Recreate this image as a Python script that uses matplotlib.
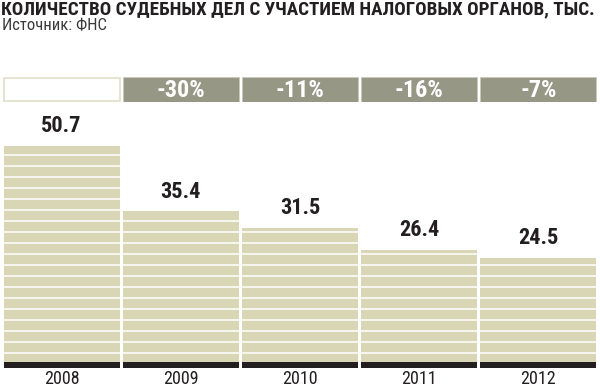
import numpy as np
import matplotlib
matplotlib.use("Agg")
import matplotlib.pyplot as plt
from matplotlib.patches import Rectangle
from matplotlib import font_manager

# Data
years = ["2008", "2009", "2010", "2011", "2012"]
cases = [50.7, 35.4, 31.5, 26.4, 24.5]
changes = ["", "-30%", "-11%", "-16%", "-7%"]

TITLE = "КОЛИЧЕСТВО СУДЕБНЫХ ДЕЛ С УЧАСТИЕМ НАЛОГОВЫХ ОРГАНОВ, ТЫС."
SOURCE = "Источник: ФНС"

BAR = "#d9d6b6"
GREY = "#979786"
DARK = "#231f20"

names = {f.name for f in font_manager.fontManager.ttflist}
NARROW = [n for n in ["Roboto Condensed", "Liberation Sans Narrow", "Roboto"] if n in names] + ["DejaVu Sans"]

W, H = 600, 388
fig = plt.figure(figsize=(W / 100, H / 100), dpi=100)

def px_axes(x0, y0, x1, y1):
    # pixel box (top-left origin) -> figure axes
    return fig.add_axes([x0 / W, 1 - y1 / H, (x1 - x0) / W, (y1 - y0) / H])

x = np.arange(len(years))
bw = 0.973

# main bars: baseline at y=362px, 4.26 px per unit
ax = px_axes(2, 362 - 58 * 4.26, 598, 368)
ax.set_xlim(-0.5, len(years) - 0.5)
band = 6 / 4.26
ax.set_ylim(-band, 58)
ax.bar(x, cases, width=bw, color=BAR, zorder=1)
ax.bar(x, [band] * len(x), bottom=-band, width=bw, color=DARK, zorder=1)
for y in np.arange(9, 240, 11) / 4.26:
    ax.axhline(y, color="white", lw=1.1, zorder=2)
for xi, v in zip(x, cases):
    ax.text(xi, v + 2.0, f"{v}", ha="center", va="bottom", fontsize=16,
            fontweight="bold", color=DARK, family=NARROW)
    ax.text(xi, -band - 0.4, years[xi], ha="center", va="top", fontsize=13,
            color=DARK, family=NARROW)
ax.axis("off")

# header row with percent changes
hx = px_axes(2, 77, 598, 102)
hx.set_xlim(-0.5, len(years) - 0.5)
hx.set_ylim(0, 1)
for xi, lab in zip(x, changes):
    if lab:
        hx.add_patch(Rectangle((xi - bw / 2, 0), bw, 1, facecolor=GREY,
                               edgecolor="#c9c8bb", lw=0.6))
        hx.text(xi, 0.47, lab, ha="center", va="center", fontsize=17.5,
                fontweight="bold", color="white", family=NARROW)
    else:
        hx.add_patch(Rectangle((xi - bw / 2, 0.03), bw, 0.94, facecolor="white",
                               edgecolor="#e2dec8", lw=1.2))
hx.axis("off")

fig.text(1 / W, 1 - 0 / H, TITLE, ha="left", va="top", fontsize=13.8,
         fontweight="bold", color=DARK, family=NARROW)
fig.text(2 / W, 1 - 18 / H, SOURCE, ha="left", va="top", fontsize=12,
         color="#3a3a3a", family=NARROW)

fig.savefig("out.png", dpi=100, facecolor="white")
